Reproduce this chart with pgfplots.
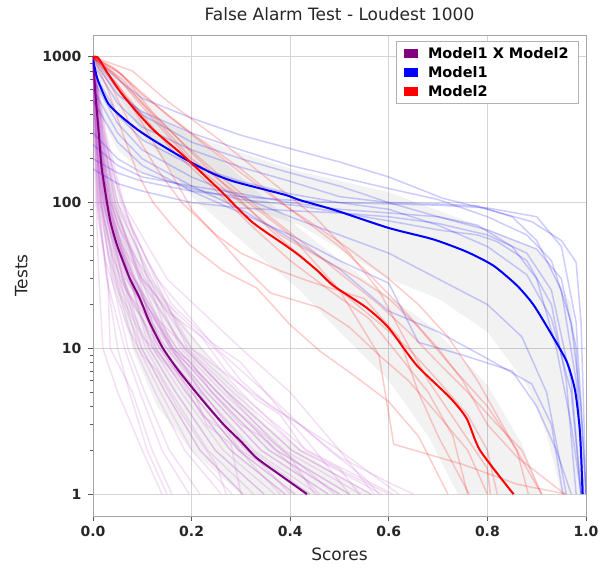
\documentclass[border=0pt]{standalone}
\usepackage{fontspec}
\setmainfont{DejaVu Sans}
\usepackage{pgfplots}
\pgfplotsset{compat=1.18}
\definecolor{faintpurple}{RGB}{195,100,205}
\definecolor{mpurple}{RGB}{128,0,128}
\begin{document}
\begin{tikzpicture}
\begin{axis}[
 scale only axis, width=493pt, height=481pt,
 xmin=0, xmax=1, ymode=log, ymin=0.708, ymax=1413,
 xtick={0,0.2,0.4,0.6,0.8,1}, xticklabels={0.0,0.2,0.4,0.6,0.8,1.0},
 ytick={1,10,100,1000}, yticklabels={1,10,100,1000},
 tick label style={font=\fontsize{14}{16}\selectfont\bfseries, text=black!85},
 xticklabel style={yshift=-2pt}, yticklabel style={xshift=-3pt},
 /pgf/number format/assume math mode=true,
 title={False Alarm Test - Loudest 1000},
 title style={font=\fontsize{17}{20}\selectfont, text=black!85, yshift=5pt},
 xlabel={Scores}, ylabel={Tests},
 label style={font=\fontsize{17}{20}\selectfont, text=black!85},
 xlabel shift=4pt, ylabel shift=8pt,
 grid=major, major grid style={draw=black!17, line width=0.9pt},
 axis line style={draw=black!35, line width=0.9pt},
 tick align=outside, tick pos=left, major tick length=5pt, minor tick length=3pt,
 every tick/.style={black!65, line width=0.8pt},
 legend cell align=left,
 legend image code/.code={\path[#1] (0pt,-4.5pt) rectangle (14pt,4.5pt); \path (22pt,0pt);},
 legend style={at={(rel axis cs:0.986,0.988)}, anchor=north east, draw=black!30, line width=0.9pt,
   font=\fontsize{14.5}{17}\selectfont\bfseries, row sep=2.5pt, inner xsep=8pt, inner ysep=4pt},
]
% ---------------- bands ----------------
\addplot[forget plot, draw=none, fill=black, fill opacity=0.05] coordinates {
 (0,1000)(0.02,300)(0.05,100)(0.12,30)(0.22,10)(0.35,3)(0.5,1.3)(0.56,1)
 (0.3,1)(0.2,2)(0.13,4)(0.08,10)(0.04,30)(0.015,100)(0.004,300)(0,1000)};
\addplot[forget plot, draw=none, fill=black, fill opacity=0.05] coordinates {
 (0,1000)(0.05,600)(0.1,420)(0.2,290)(0.3,220)(0.42,163)(0.6,118)(0.8,66)(0.9,48)(0.93,35)(0.97,20)(0.99,6)(1,1)
 (0.95,1)(0.92,2.6)(0.88,5.6)(0.8,13)(0.7,22)(0.6,30)(0.42,70)(0.3,95)(0.2,120)(0.1,160)(0.05,230)(0,500)};
\addplot[forget plot, draw=none, fill=black, fill opacity=0.05] coordinates {
 (0,1000)(0.05,800)(0.1,550)(0.2,300)(0.3,150)(0.42,66)(0.55,30)(0.69,13.8)(0.8,5.6)(0.87,2.2)(0.91,1)
 (0.74,1)(0.68,2.5)(0.6,6)(0.5,13)(0.42,25)(0.3,55)(0.2,110)(0.1,300)(0.05,550)(0,1000)};
% ---------------- purple faint lines ----------------
\pgfplotsset{pf/.style={forget plot, faintpurple, opacity=0.2, line width=1.5pt}}
\addplot[pf] coordinates {(0,1000)(0.005,300)(0.011,100)(0.028,30)(0.05,10)(0.074,5)(0.11,2)(0.15,1)};
\addplot[pf] coordinates {(0,1000)(0.006,300)(0.014,100)(0.038,30)(0.071,10)(0.105,5)(0.155,2)(0.217,1)};
\addplot[pf] coordinates {(0,1000)(0.007,300)(0.017,100)(0.045,30)(0.085,10)(0.126,5)(0.186,2)(0.26,1)};
\addplot[pf] coordinates {(0,1000)(0.01,300)(0.022,100)(0.054,30)(0.092,10)(0.137,5)(0.2,2)(0.282,1)};
\addplot[pf] coordinates {(0,1000)(0.006,300)(0.014,100)(0.049,30)(0.114,10)(0.168,5)(0.248,2)(0.347,1)};
\addplot[pf] coordinates {(0,1000)(0.011,300)(0.025,100)(0.062,30)(0.107,10)(0.158,5)(0.233,2)(0.326,1)};
\addplot[pf] coordinates {(0,1000)(0.014,300)(0.034,100)(0.075,30)(0.114,10)(0.168,5)(0.248,2)(0.347,1)};
\addplot[pf] coordinates {(0,1000)(0.008,300)(0.02,100)(0.06,30)(0.128,10)(0.189,5)(0.279,2)(0.39,1)};
\addplot[pf] coordinates {(0,1000)(0.012,300)(0.028,100)(0.073,30)(0.135,10)(0.2,5)(0.295,2)(0.41,1)};
\addplot[pf] coordinates {(0,1000)(0.016,300)(0.036,100)(0.086,30)(0.142,10)(0.21,5)(0.31,2)(0.434,1)};
\addplot[pf] coordinates {(0,1000)(0.01,300)(0.022,100)(0.069,30)(0.149,10)(0.22,5)(0.326,2)(0.456,1)};
\addplot[pf] coordinates {(0,1000)(0.013,300)(0.031,100)(0.083,30)(0.156,10)(0.231,5)(0.341,2)(0.477,1)};
\addplot[pf] coordinates {(0,1000)(0.018,300)(0.042,100)(0.097,30)(0.156,10)(0.231,5)(0.341,2)(0.477,1)};
\addplot[pf] coordinates {(0,1000)(0.007,300)(0.017,100)(0.066,30)(0.163,10)(0.242,5)(0.357,2)(0.5,1)};
\addplot[pf] coordinates {(0,1000)(0.012,300)(0.028,100)(0.083,30)(0.17,10)(0.252,5)(0.372,2)(0.52,1)};
\addplot[pf] coordinates {(0,1000)(0.022,300)(0.05,100)(0.114,30)(0.178,10)(0.263,5)(0.388,2)(0.543,1)};
\addplot[pf] coordinates {(0,1000)(0.014,300)(0.034,100)(0.094,30)(0.185,10)(0.273,5)(0.403,2)(0.564,1)};
\addplot[pf] coordinates {(0,1000)(0.024,300)(0.056,100)(0.126,30)(0.192,10)(0.284,5)(0.42,2)(0.586,1)};
\addplot[pf] coordinates {(0,1000)(0.017,300)(0.039,100)(0.105,30)(0.199,10)(0.294,5)(0.434,2)(0.608,1)};
\addplot[pf] coordinates {(0,1000)(0.011,300)(0.025,100)(0.06,30)(0.099,10)(0.147,5)(0.217,2)(0.304,1)};
\addplot[pf] coordinates {(0,1000)(0.005,300)(0.011,100)(0.041,30)(0.099,10)(0.147,5)(0.217,2)(0.304,1)};
\addplot[pf] coordinates {(0,1000)(0.013,300)(0.031,100)(0.073,30)(0.121,10)(0.179,5)(0.264,2)(0.369,1)};
\addplot[pf] coordinates {(0,1000)(0.026,300)(0.062,100)(0.11,30)(0.16,10)(0.22,5)(0.32,2)(0.44,1)};
\addplot[pf] coordinates {(0,1000)(0.008,300)(0.02,100)(0.071,30)(0.17,10)(0.252,5)(0.372,2)(0.52,1)};
\addplot[pf] coordinates {(0,1000)(0.019,300)(0.045,100)(0.094,30)(0.128,10)(0.189,5)(0.279,2)(0.39,1)};
\addplot[pf] coordinates {(0,1000)(0.004,300)(0.008,100)(0.028,30)(0.064,10)(0.095,5)(0.14,2)(0.195,1)};
\addplot[pf] coordinates {(0,1000)(0.013,300)(0.026,100)(0.08,30)(0.138,10)(0.215,5)(0.3,2)(0.44,1)};
\addplot[pf] coordinates {(0,1000)(0.016,300)(0.036,100)(0.098,30)(0.185,10)(0.273,5)(0.403,2)(0.564,1)};
\addplot[pf] coordinates {(0,1000)(0.006,300)(0.014,100)(0.054,30)(0.135,10)(0.2,5)(0.295,2)(0.41,1)};
\addplot[pf] coordinates {(0,1000)(0.011,300)(0.025,100)(0.077,30)(0.163,10)(0.242,5)(0.357,2)(0.5,1)};
\addplot[pf] coordinates {(0,1000)(0.003,300)(0.006,100)(0.012,30)(0.02,10)(0.05,5)(0.1,2)(0.14,1)};
\addplot[pf] coordinates {(0,1000)(0.004,300)(0.01,100)(0.03,30)(0.035,10)(0.08,5)(0.12,2)(0.16,1)};
\addplot[pf] coordinates {(0,1000)(0.02,300)(0.06,100)(0.15,30)(0.3,10)(0.4,5)(0.5,2)(0.57,1)};
\addplot[pf] coordinates {(0,1000)(0.015,300)(0.05,100)(0.13,30)(0.25,10)(0.35,5)(0.45,2)(0.52,1)};
\addplot[pf] coordinates {(0,1000)(0.01,300)(0.04,100)(0.1,30)(0.22,10)(0.3,5)(0.42,2)(0.6,1)};
\addplot[pf] coordinates {(0,1000)(0.02,300)(0.045,100)(0.12,30)(0.2,10)(0.32,5)(0.5,2)(0.62,1)};
\addplot[pf] coordinates {(0,1000)(0.008,250)(0.02,120)(0.04,60)(0.07,35)(0.09,28)(0.12,15)(0.16,10)(0.2,8)(0.24,5)(0.3,3)(0.34,2.5)(0.4,1.6)(0.46,1)};
\addplot[pf] coordinates {(0,1000)(0.004,400)(0.012,150)(0.03,70)(0.05,40)(0.08,20)(0.1,16)(0.13,9)(0.18,6)(0.22,3.5)(0.26,2.8)(0.33,1.5)(0.38,1)};
\addplot[pf] coordinates {(0,1000)(0.01,350)(0.025,140)(0.05,70)(0.09,40)(0.14,22)(0.2,14)(0.26,9)(0.3,6)(0.36,4)(0.42,3)(0.48,2)(0.55,1.3)(0.58,1)};
\addplot[pf] coordinates {(0,1000)(0.006,300)(0.015,110)(0.03,45)(0.06,22)(0.1,12)(0.15,8)(0.2,5.5)(0.23,3)(0.28,2.2)(0.3,1)};
\addplot[pf] coordinates {(0,1000)(0.012,280)(0.03,100)(0.06,50)(0.1,30)(0.15,18)(0.22,12)(0.27,7)(0.33,4.5)(0.38,3.5)(0.43,2)(0.5,1.5)(0.54,1)};
\addplot[pf] coordinates {(0,1000)(0.005,200)(0.01,80)(0.025,40)(0.045,25)(0.07,14)(0.1,9)(0.13,7)(0.17,4)(0.21,2.5)(0.25,1.6)(0.27,1)};
\addplot[pf] coordinates {(0,1000)(0.015,400)(0.04,160)(0.07,80)(0.11,40)(0.16,20)(0.24,11)(0.3,8)(0.35,5)(0.42,3)(0.5,1.8)(0.6,1.2)(0.65,1)};
\addplot[pf] coordinates {(0,1000)(0.009,320)(0.02,130)(0.045,60)(0.075,33)(0.12,17)(0.17,9)(0.22,6.5)(0.28,4)(0.35,2.5)(0.4,1.8)(0.45,1)};
\addplot[pf] coordinates {(0,1000)(0.007,260)(0.018,95)(0.04,42)(0.07,24)(0.1,18)(0.14,11)(0.19,7)(0.24,4.2)(0.29,2.4)(0.36,1.4)(0.4,1)};
\addplot[pf] coordinates {(0,1000)(0.011,330)(0.028,120)(0.05,55)(0.085,30)(0.13,16)(0.19,10)(0.25,6)(0.31,3.6)(0.37,2.2)(0.44,1.4)(0.49,1)};
% ---------------- blue faint lines ----------------
\pgfplotsset{bf/.style={forget plot, blue, opacity=0.2, line width=1.5pt}}
\addplot[bf] coordinates {(0,1000)(0.05,700)(0.1,520)(0.2,380)(0.3,290)(0.42,225)(0.5,190)(0.6,150)(0.71,107)(0.8,90)(0.89,74)(0.95,55)(0.98,39)(0.99,15)(0.995,4)(1,1)};
\addplot[bf] coordinates {(0,950)(0.05,550)(0.1,420)(0.2,300)(0.3,230)(0.4,180)(0.5,150)(0.6,125)(0.7,105)(0.8,80)(0.88,60)(0.93,40)(0.97,15)(0.99,4)(1,1)};
\addplot[bf] coordinates {(0,900)(0.05,480)(0.1,330)(0.2,230)(0.3,175)(0.4,140)(0.5,110)(0.6,100)(0.7,98)(0.78,95)(0.85,80)(0.9,55)(0.95,25)(0.98,6)(0.995,1)};
\addplot[bf] coordinates {(0,800)(0.05,400)(0.1,270)(0.2,180)(0.3,140)(0.4,115)(0.5,100)(0.6,90)(0.7,70)(0.8,50)(0.88,32)(0.93,16)(0.97,5)(0.99,1)};
\addplot[bf] coordinates {(0,200)(0.05,160)(0.1,140)(0.2,120)(0.3,110)(0.4,104)(0.5,100)(0.6,98)(0.7,96)(0.8,92)(0.9,80)(0.95,50)(0.98,15)(1,1)};
\addplot[bf] coordinates {(0,170)(0.05,135)(0.1,120)(0.2,100)(0.3,92)(0.4,88)(0.5,85)(0.6,80)(0.7,72)(0.8,60)(0.88,45)(0.93,25)(0.97,6)(0.99,1)};
\addplot[bf] coordinates {(0,300)(0.05,200)(0.1,160)(0.2,125)(0.3,105)(0.42,95)(0.6,75)(0.7,65)(0.78,60)(0.82,54)(0.88,40)(0.93,20)(0.96,6)(0.98,1)};
\addplot[bf] coordinates {(0,600)(0.05,300)(0.1,200)(0.2,130)(0.3,90)(0.42,52)(0.5,35)(0.6,18)(0.7,13)(0.8,8.5)(0.89,5.7)(0.93,3)(0.953,1)};
\addplot[bf] coordinates {(0,700)(0.05,350)(0.1,230)(0.2,150)(0.3,110)(0.4,80)(0.5,60)(0.6,45)(0.7,30)(0.8,20)(0.87,12)(0.92,5)(0.96,1)};
\addplot[bf] coordinates {(0,1000)(0.05,600)(0.1,400)(0.2,260)(0.3,200)(0.4,160)(0.5,130)(0.6,100)(0.7,80)(0.8,65)(0.9,48)(0.95,30)(0.98,10)(0.99,2)(0.995,1)};
\addplot[bf] coordinates {(0,250)(0.05,180)(0.1,150)(0.2,130)(0.3,115)(0.4,100)(0.5,90)(0.6,85)(0.7,80)(0.78,70)(0.85,50)(0.9,30)(0.94,10)(0.97,3)(0.99,1)};
\addplot[bf] coordinates {(0,500)(0.05,260)(0.1,180)(0.2,120)(0.3,85)(0.4,60)(0.5,40)(0.6,28)(0.66,11)(0.75,9)(0.85,7)(0.9,4)(0.94,2)(0.97,1)};
% ---------------- red faint lines ----------------
\pgfplotsset{rf/.style={forget plot, red, opacity=0.2, line width=1.5pt}}
\addplot[rf] coordinates {(0,1000)(0.03,600)(0.06,300)(0.09,160)(0.122,100)(0.16,70)(0.197,51)(0.264,34)(0.332,26)(0.4,14.5)(0.46,9.6)(0.53,6.5)(0.6,4.3)(0.66,2.5)(0.72,1)};
\addplot[rf] coordinates {(0,1000)(0.05,650)(0.1,350)(0.15,180)(0.2,90)(0.258,55)(0.3,38)(0.36,24)(0.46,19)(0.52,14)(0.58,9)(0.64,6)(0.7,3.5)(0.76,2)(0.8,1)};
\addplot[rf] coordinates {(0,1000)(0.04,850)(0.08,650)(0.15,400)(0.22,260)(0.3,160)(0.38,100)(0.45,70)(0.52,48)(0.6,30)(0.66,20)(0.72,12)(0.78,6)(0.83,3)(0.88,1.5)(0.91,1)};
\addplot[rf] coordinates {(0,1000)(0.05,800)(0.1,550)(0.2,300)(0.3,170)(0.4,90)(0.5,50)(0.55,35)(0.62,20)(0.7,10)(0.75,6)(0.8,3)(0.86,1.8)(0.957,1)};
\addplot[rf] coordinates {(0,1000)(0.04,700)(0.1,400)(0.16,230)(0.24,130)(0.32,70)(0.4,40)(0.48,25)(0.56,16)(0.62,9)(0.68,5)(0.73,2.5)(0.76,1)};
\addplot[rf] coordinates {(0,1000)(0.06,750)(0.12,420)(0.2,220)(0.28,120)(0.36,65)(0.44,38)(0.52,22)(0.58,15)(0.64,10)(0.7,6)(0.76,3.5)(0.8,2)(0.82,1)};
\addplot[rf] coordinates {(0,1000)(0.05,720)(0.12,380)(0.2,190)(0.3,100)(0.38,60)(0.46,42)(0.54,30)(0.6,22)(0.66,14)(0.72,8)(0.8,4)(0.86,2)(0.883,1)};
\addplot[rf] coordinates {(0,1000)(0.08,800)(0.15,500)(0.25,280)(0.35,150)(0.45,80)(0.52,45)(0.58,25)(0.63,12)(0.68,6)(0.74,3)(0.8,1.5)(0.806,1)};
\addplot[rf] coordinates {(0,1000)(0.04,780)(0.1,480)(0.18,260)(0.26,150)(0.34,90)(0.42,55)(0.5,33)(0.58,20)(0.64,13)(0.7,8)(0.76,5)(0.82,3)(0.87,2)(0.91,1)};
\addplot[rf] coordinates {(0,1000)(0.04,600)(0.08,320)(0.13,170)(0.18,100)(0.25,60)(0.3,45)(0.38,34)(0.45,28)(0.55,22)(0.62,12)(0.66,5)(0.7,2.5)(0.763,1)};
\addplot[rf] coordinates {(0,1000)(0.06,700)(0.12,400)(0.2,200)(0.3,110)(0.4,60)(0.5,25)(0.58,9)(0.61,2.2)(0.75,1.6)(0.86,1.17)(0.96,1)};
% ---------------- medians ----------------
\addplot[forget plot, mpurple, line width=2pt, smooth, tension=0.4] coordinates {
 (0,1000)(0.003,700)(0.006,500)(0.011,320)(0.017,180)(0.025,118)(0.035,75)(0.048,52)(0.061,39.5)(0.075,30)(0.095,22)(0.115,15)(0.142,10)(0.17,7.3)(0.197,5.6)(0.23,4.1)(0.265,3)(0.3,2.3)(0.332,1.77)(0.38,1.35)(0.434,1)};
\addplot[forget plot, blue, line width=2pt, smooth, tension=0.4] coordinates {
 (0,950)(0.01,690)(0.031,478)(0.058,388)(0.092,314)(0.125,265)(0.18,205)(0.24,160)(0.288,139)(0.39,113)(0.42,104)(0.49,89)(0.6,67)(0.69,56)(0.758,46)(0.812,37)(0.86,27)(0.893,20)(0.927,13)(0.961,8.1)(0.978,5.1)(0.988,2.6)(0.993,1)};
\addplot[forget plot, red, line width=2pt, smooth, tension=0.4] coordinates {
 (0,1000)(0.01,990)(0.03,770)(0.058,560)(0.092,408)(0.125,310)(0.18,215)(0.254,125)(0.322,74)(0.39,51)(0.42,43)(0.457,33.7)(0.487,27)(0.555,19)(0.6,13.8)(0.656,7.7)(0.724,4.6)(0.758,3.3)(0.785,2)(0.853,1)};
% ---------------- legend ----------------
\addlegendimage{fill=mpurple, draw=none}
\addlegendentry{Model1 X Model2}
\addlegendimage{fill=blue, draw=none}
\addlegendentry{Model1}
\addlegendimage{fill=red, draw=none}
\addlegendentry{Model2}
\end{axis}
\pgfresetboundingbox
\path ([shift={(-93pt,-51pt)}]current axis.south west) rectangle ([shift={(14pt,35pt)}]current axis.north east);
\end{tikzpicture}
\end{document}
